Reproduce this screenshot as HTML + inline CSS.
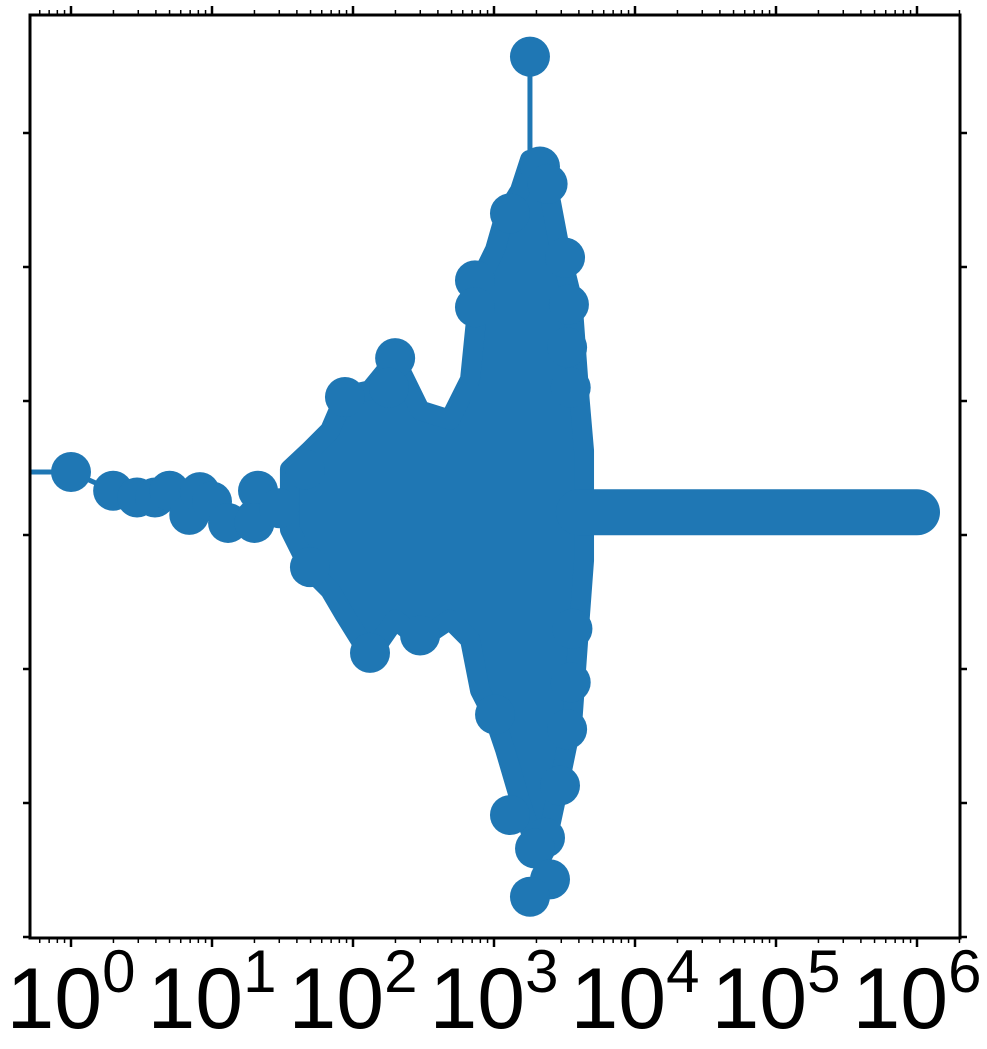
<!DOCTYPE html>
<html><head><meta charset="utf-8"><style>
html,body{margin:0;padding:0;background:#fff;}
svg{display:block;font-family:"Liberation Sans",sans-serif;}
</style></head><body>
<svg id="chart" width="987" height="1049" viewBox="0 0 987 1049"></svg>
<script>
// ---- data ----
const envX   = [35.7,49.5,68.7,87.7,132,199,299,487,676,796,1017,1197,1528,1799,2300,2938,3600,4050,4350];
const envTop = [0.49,0.63,0.78,1.04,1.08,1.31,0.93,0.86,1.16,1.90,2.13,2.39,2.57,2.80,2.72,2.13,1.75,1.01,0.63];
const envBot = [0.04,-0.26,-0.41,-0.60,-0.90,-0.63,-0.78,-0.63,-0.78,-1.16,-1.38,-1.60,-1.98,-2.20,-2.35,-1.83,-1.38,-0.63,-0.19];
const leadX  = [1,1.99,2.94,3.94,5.0,6.9,8.2,10,13,21.2,20,30];
const leadY  = [0.47,0.33,0.28,0.28,0.33,0.15,0.32,0.25,0.09,0.33,0.09,0.2];
const outX   = [1799,2119,1298,733,733,3190,199,87.7,132,299,1298,2300,1954,2496,1799,2938,1017,49.5,45.6,180,2400,3400,3300,3500,3600,3500,3300];
const outY   = [3.57,2.75,2.40,1.90,1.70,2.07,1.32,1.03,-0.88,-0.75,-2.09,-2.26,-2.34,-2.57,-2.70,-1.87,-1.34,-0.24,0.49,1.10,2.62,1.72,1.40,1.10,-0.70,-1.10,-1.45];
const flatStart = 4000, flatEnd = 1e6, flatY = 0.17;
const stemX = 1799, stemTop = 3.57, stemBot = 2.8;
const xTickExps = [0,1,2,3,4,5,6];
const yTickVals = [-3,-2,-1,0,1,2,3];

// ---- scales ----
const L=30,R=960,T=15,B=938;
const sx = v => 71 + Math.log10(v)*141;
const sy = v => 535 - v*134;
const NS="http://www.w3.org/2000/svg";
const svg=document.getElementById('chart');
function mk(tag,attrs,parent){const e=document.createElementNS(NS,tag);for(const k in attrs)e.setAttribute(k,attrs[k]);(parent||svg).appendChild(e);return e;}
const C="#1f77b4";

const clip=mk('clipPath',{id:'pc'});mk('rect',{x:L,y:T,width:R-L,height:B-T},clip);
const g=mk('g',{'clip-path':'url(#pc)'});



// lead line
let d='M'+L+','+sy(leadY[0]);
leadX.forEach((x,i)=>{d+=' L'+sx(x)+','+sy(leadY[i]);});
const ll=mk('path',{d:d,fill:'none',stroke:C,'stroke-width':5},g);



// envelope
let pts=envX.map((x,i)=>sx(x)+','+sy(envTop[i]));
for(let i=envX.length-1;i>=0;i--)pts.push(sx(envX[i])+','+sy(envBot[i]));
const env=mk('polygon',{points:pts.join(' '),fill:C,stroke:C,'stroke-width':20,'stroke-linejoin':'round'},g);



// stem
const st=mk('line',{x1:sx(stemX),x2:sx(stemX),y1:sy(stemTop),y2:sy(stemBot),stroke:C,'stroke-width':5},g);



// flat band
const fl=mk('line',{x1:sx(flatStart),x2:sx(flatEnd),y1:sy(flatY),y2:sy(flatY),stroke:C,'stroke-width':46,'stroke-linecap':'round'},g);



// markers
leadX.forEach((x,i)=>{const c=mk('circle',{cx:sx(x),cy:sy(leadY[i]),r:20,fill:C},g);

});
outX.forEach((x,i)=>{const c=mk('circle',{cx:sx(x),cy:sy(outY[i]),r:20,fill:C},g);

});

// frame
const fr=mk('rect',{x:L,y:T,width:R-L,height:B-T,fill:'none',stroke:'#000','stroke-width':3});



// x ticks
for(let e=-1;e<=6;e++){
  for(let m=1;m<10;m++){
    const v=m*Math.pow(10,e);const px=sx(v);
    if(px<L||px>R)continue;
    const len=m===1?9:5;
    mk('line',{x1:px,x2:px,y1:B,y2:B+len,stroke:'#000','stroke-width':m===1?2.5:1.5});
    mk('line',{x1:px,x2:px,y1:T,y2:T-len,stroke:'#000','stroke-width':m===1?2.5:1.5});
  }
}
xTickExps.forEach(e=>{
  const t=mk('text',{x:sx(Math.pow(10,e)),y:1028,'font-size':86,'text-anchor':'middle',fill:'#000'});
  
  
  t.textContent='10';
  const s=mk('tspan',{'font-size':60,dy:-36},t);s.textContent=String(e);
});
// y ticks
yTickVals.forEach(v=>{const py=sy(v);
  mk('line',{x1:L,x2:L-7,y1:py,y2:py,stroke:'#000','stroke-width':2.5});
  mk('line',{x1:R,x2:R+7,y1:py,y2:py,stroke:'#000','stroke-width':2.5});
});
</script>
</body></html>
